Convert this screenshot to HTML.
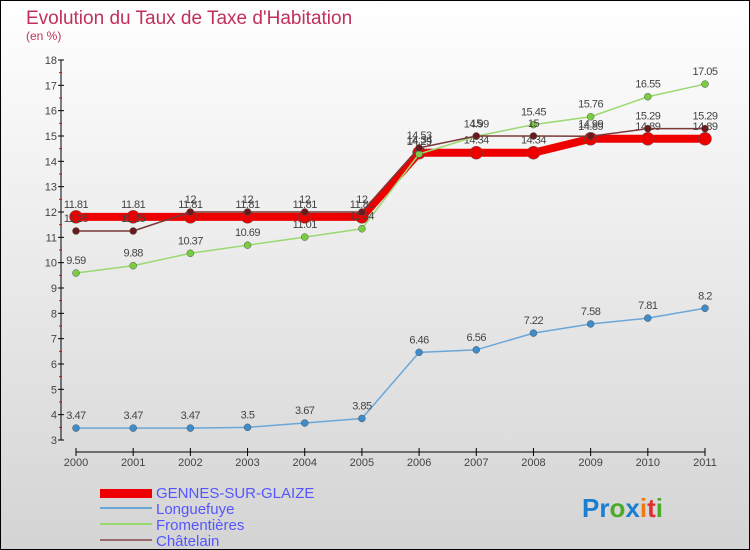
<!DOCTYPE html>
<html><head><meta charset="utf-8"><style>
body{margin:0;width:750px;height:550px;overflow:hidden;font-family:"Liberation Sans",sans-serif}
#wrap{position:absolute;left:0;top:0;width:748px;height:548px;border:1px solid #000;background:linear-gradient(#ffffff,#d4d4d4)}
</style></head><body>
<div id="wrap">
<svg id="chart" width="750" height="550" style="position:absolute;left:-1px;top:-1px">
<text x="26" y="24" font-size="19" fill="#c0305a">Evolution du Taux de Taxe d'Habitation</text>
<text x="26" y="40" font-size="12" fill="#c0305a">(en %)</text>
<g id="axes"></g><g id="series"></g>
<g>
<rect x="100" y="489" width="52" height="9" fill="#e00"/>
<text x="156" y="498" font-size="15" fill="#55f">GENNES-SUR-GLAIZE</text>
<line x1="100" y1="508" x2="152" y2="508" stroke="#6aa7d8" stroke-width="2"/>
<text x="156" y="514" font-size="15" fill="#55f">Longuefuye</text>
<line x1="100" y1="524" x2="152" y2="524" stroke="#9ad870" stroke-width="2"/>
<text x="156" y="530" font-size="15" fill="#55f">Fromentières</text>
<line x1="100" y1="540" x2="152" y2="540" stroke="#9a6b6b" stroke-width="2"/>
<text x="156" y="546" font-size="15" fill="#55f">Châtelain</text>
</g>
<text x="582" y="517" font-size="26" font-weight="bold"><tspan fill="#1a7fd0">Pr</tspan><tspan fill="#4caa2a">o</tspan><tspan fill="#1a7fd0">x</tspan><tspan fill="#f07a10">i</tspan><tspan fill="#e03030">t</tspan><tspan fill="#4caa2a">i</tspan></text>
</svg></div>
<script>
const years=[2000,2001,2002,2003,2004,2005,2006,2007,2008,2009,2010,2011];
const yTicks=[3,4,5,6,7,8,9,10,11,12,13,14,15,16,17,18];
const gennes=[11.81,11.81,11.81,11.81,11.81,11.81,14.34,14.34,14.34,14.89,14.89,14.89];
const longuefuye=[3.47,3.47,3.47,3.5,3.67,3.85,6.46,6.56,7.22,7.58,7.81,8.2];
const fromentieres=[9.59,9.88,10.37,10.69,11.01,11.34,14.29,14.99,15.45,15.76,16.55,17.05];
const chatelain=[11.25,11.25,12,12,12,12,14.53,15,15,14.99,15.29,15.29];
const NS="http://www.w3.org/2000/svg";
const X=i=>76+i*(629/11), Y=v=>60+(18-v)*(380/15);
function mk(t,a,p){const e=document.createElementNS(NS,t);for(const k in a)e.setAttribute(k,a[k]);p.appendChild(e);return e;}
const ax=document.getElementById('axes');
const yl=mk('line',{x1:61,y1:Y(18),x2:61,y2:Y(3),stroke:'#000'},ax);


const xl=mk('line',{x1:76,y1:452,x2:705,y2:452,stroke:'#000'},ax);


yTicks.forEach(v=>{mk('line',{x1:58,y1:Y(v),x2:64,y2:Y(v),stroke:'#000'},ax);
 if(v<18)mk('line',{x1:59,y1:Y(v+0.5),x2:62,y2:Y(v+0.5),stroke:'#e00'},ax);
 const t=mk('text',{x:57,y:Y(v)+4,'font-size':11,fill:'#444','text-anchor':'end'},ax);t.textContent=v;
 
 });
years.forEach((y,i)=>{mk('line',{x1:X(i),y1:448,x2:X(i),y2:456,stroke:'#000'},ax);
 const t=mk('text',{x:X(i),y:466,'font-size':11,fill:'#444','text-anchor':'middle'},ax);t.textContent=y;
 
 });
const sg=document.getElementById('series');
function series(vals,color,w,r,dot,name){
 const g=mk('g',{},sg);
 
 
 mk('polyline',{points:vals.map((v,i)=>X(i)+','+Y(v)).join(' '),fill:'none',stroke:color,'stroke-width':w,'stroke-linejoin':'round'},g);
 vals.forEach((v,i)=>{const c=mk('circle',{cx:X(i),cy:Y(v),r:r,fill:dot,stroke:'#555','stroke-width':0.5},g);
  
  
  const t=mk('text',{x:X(i),y:Y(v)-9,'font-size':11,fill:'#444','text-anchor':'middle','letter-spacing':'-0.5'},g);t.textContent=v;});
}
series(longuefuye,'#6aa7d8',1.5,3.5,'#3d8ccc','series-longuefuye');
series(gennes,'#ee0000',8,6.5,'#ee0000','series-gennes');
series(fromentieres,'#9ad870',1.5,3.5,'#7acc40','series-fromentieres');
series(chatelain,'#7a3a3a',1.5,3.5,'#6a1a1a','series-chatelain');
</script>
</body></html>
